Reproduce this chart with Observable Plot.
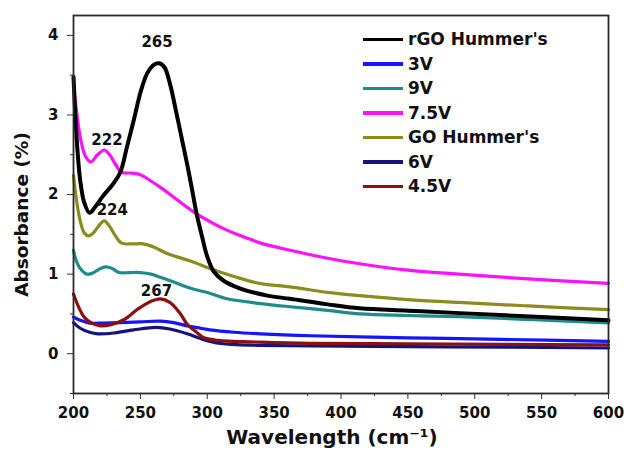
<!DOCTYPE html>
<html>
<head>
<meta charset="utf-8">
<script src="https://cdn.jsdelivr.net/npm/d3@7"></script>
<script src="https://cdn.jsdelivr.net/npm/@observablehq/plot@0.6"></script>
<style>
  html, body { margin: 0; padding: 0; background: #fff; }
  #wrap { position: relative; width: 624px; height: 466px; }
  #legend { position: absolute; left: 363px; top: 27px; font-family: "DejaVu Sans", sans-serif; font-weight: bold; font-size: 17px; color: #111; }
  #legend .row { height: 24.5px; display: flex; align-items: center; white-space: nowrap; }
  #legend .sw { width: 40px; height: 3.5px; margin-right: 5px; }
</style>
</head>
<body>
<div id="wrap"><div id="legend"></div></div>
<script>
// Series names and colours
const seriesNames = ["rGO Hummer's", "3V", "9V", "7.5V", "GO Hummer's", "6V", "4.5V"];
const seriesColors = ["#000000", "#1515ff", "#1e8c8c", "#ff10ff", "#8c8c1e", "#14147c", "#8c1010"];
const seriesWidths = [4, 3.2, 3.2, 3.2, 3.2, 3.2, 3.2];

// rGO Hummer's
const rgoX = [200, 201.5, 203, 205, 208, 212, 216, 222, 229, 235, 240, 245, 250, 255, 260, 264, 268, 272, 277, 281, 285, 289, 292, 296, 300, 305, 312, 320, 330, 345, 362, 390, 414, 450, 489, 550, 600];
const rgoY = [3.48, 2.95, 2.55, 2.18, 1.9, 1.77, 1.84, 1.98, 2.12, 2.28, 2.6, 2.93, 3.28, 3.52, 3.63, 3.65, 3.6, 3.4, 3.02, 2.7, 2.38, 2.03, 1.76, 1.48, 1.22, 1.03, 0.92, 0.85, 0.79, 0.73, 0.69, 0.62, 0.57, 0.54, 0.51, 0.46, 0.42];
// 3V
const v3X = [200, 205, 212, 222, 235, 250, 265, 275, 285, 295, 302, 320, 340, 377, 450, 520, 600];
const v3Y = [0.46, 0.42, 0.385, 0.385, 0.39, 0.4, 0.41, 0.39, 0.35, 0.32, 0.3, 0.27, 0.25, 0.226, 0.2, 0.18, 0.155];
// 9V
const v9X = [200, 202, 205, 210, 214, 219, 224, 229, 234, 242, 250, 258, 265, 275, 290, 300, 315, 340, 362, 390, 414, 450, 488, 540, 600];
const v9Y = [1.3, 1.17, 1.07, 1.0, 1.01, 1.06, 1.09, 1.07, 1.02, 1.02, 1.02, 1.0, 0.96, 0.9, 0.81, 0.77, 0.69, 0.63, 0.59, 0.545, 0.5, 0.48, 0.465, 0.43, 0.386];
// 7.5V
const v75X = [200, 203, 205.5, 209, 213, 218, 223, 227, 231, 236, 243, 250, 257, 265, 277, 290, 302, 315, 327, 340, 362, 390, 414, 450, 488, 540, 600];
const v75Y = [3.37, 2.95, 2.68, 2.48, 2.41, 2.5, 2.56, 2.5, 2.39, 2.28, 2.27, 2.25, 2.18, 2.09, 1.94, 1.78, 1.66, 1.55, 1.47, 1.39, 1.3, 1.2, 1.13, 1.05, 1.0, 0.94, 0.885];
// GO Hummer's
const goX = [200, 202.5, 205, 208, 211, 215, 219, 223, 227, 231, 236, 244, 252, 260, 270, 290, 302, 320, 340, 362, 390, 414, 450, 488, 540, 600];
const goY = [2.24, 1.9, 1.67, 1.52, 1.48, 1.52, 1.61, 1.67, 1.6, 1.49, 1.39, 1.38, 1.38, 1.34, 1.26, 1.15, 1.07, 0.97, 0.88, 0.84, 0.77, 0.73, 0.68, 0.645, 0.6, 0.553];
// 6V
const v6X = [200, 205, 212, 218, 230, 245, 262, 272, 285, 295, 302, 312, 322, 340, 377, 450, 520, 600];
const v6Y = [0.39, 0.32, 0.27, 0.25, 0.26, 0.3, 0.33, 0.31, 0.25, 0.19, 0.155, 0.125, 0.113, 0.105, 0.097, 0.09, 0.082, 0.072];
// 4.5V
const v45X = [200, 204, 208, 213, 220, 228, 238, 248, 258, 265, 272, 280, 285, 292, 297, 305, 310, 340, 377, 450, 520, 600];
const v45Y = [0.75, 0.58, 0.46, 0.39, 0.35, 0.365, 0.43, 0.56, 0.66, 0.69, 0.645, 0.5, 0.37, 0.27, 0.205, 0.175, 0.165, 0.145, 0.13, 0.125, 0.118, 0.11];

// Peak annotations
const annX = [262.5, 225, 229, 262];
const annY = [3.85, 2.62, 1.74, 0.73];
const annLabels = ["265", "222", "224", "267"];

// Axis ticks and extents
const xDomain = [200, 600];
const yDomain = [-0.5, 4.25];
const xTicks = [200, 250, 300, 350, 400, 450, 500, 550, 600];
const xMinor = [225, 275, 325, 375, 425, 475, 525, 575];
const yTicks = [0, 1, 2, 3, 4];
const yMinor = [-0.5, 0.5, 1.5, 2.5, 3.5];
const xLabel = "Wavelength (cm\u207B\u00B9)";
const yLabel = "Absorbance (%)";

const seriesX = [rgoX, v3X, v9X, v75X, goX, v6X, v45X];
const seriesY = [rgoY, v3Y, v9Y, v75Y, goY, v6Y, v45Y];
// draw order: back to front
const drawOrder = [3, 4, 2, 0, 1, 5, 6];

const lineMarks = drawOrder.map(i => {
  const data = seriesX[i].map((x, k) => ({x, y: seriesY[i][k]}));
  return Plot.line(data, {x: "x", y: "y", stroke: seriesColors[i], strokeWidth: seriesWidths[i], curve: "catmull-rom"});
});

const ann = annLabels.map((t, i) => ({x: annX[i], y: annY[i], t}));

const chart = Plot.plot({
  width: 624,
  height: 466,
  marginLeft: 73,
  marginRight: 16,
  marginTop: 15,
  marginBottom: 73,
  style: {fontFamily: "DejaVu Sans, sans-serif", fontWeight: "bold", fontSize: "15px", color: "#111", background: "#fff"},
  x: {domain: xDomain},
  y: {domain: yDomain},
  marks: [
    ...lineMarks,
    Plot.text(ann, {x: "x", y: "y", text: "t", lineAnchor: "bottom", fontSize: 15, fontWeight: "bold", fill: "#111"}),
    Plot.axisX({ticks: xTicks, tickSize: 6, tickPadding: 8, tickFormat: "d", label: null, fontSize: 15, stroke: "#333"}),
    Plot.axisX({ticks: xMinor, tickSize: 3, text: null, label: null, stroke: "#333"}),
    Plot.axisY({ticks: yTicks, tickSize: 6, tickPadding: 9, tickFormat: "d", label: null, fontSize: 15, stroke: "#333"}),
    Plot.axisY({ticks: yMinor, tickSize: 3, text: null, label: null, stroke: "#333"}),
    Plot.frame({stroke: "#2a2a2a", strokeWidth: 1.8}),
    Plot.text([xLabel], {frameAnchor: "bottom", dx: -9, dy: 50, fontSize: 20, fontWeight: "bold", fill: "#111"}),
    Plot.text([yLabel], {frameAnchor: "left", textAnchor: "middle", rotate: -90, dx: -51, dy: 10, fontSize: 18.5, fontWeight: "bold", fill: "#111"})
  ]
});
const wrap = document.getElementById("wrap");
wrap.insertBefore(chart, wrap.firstChild);

const legend = document.getElementById("legend");
seriesNames.forEach((name, i) => {
  const row = document.createElement("div");
  row.className = "row";
  const sw = document.createElement("div");
  sw.className = "sw";
  sw.style.background = seriesColors[i];
  const lab = document.createElement("span");
  lab.textContent = name;
  row.appendChild(sw);
  row.appendChild(lab);
  legend.appendChild(row);
});
</script>
</body>
</html>
